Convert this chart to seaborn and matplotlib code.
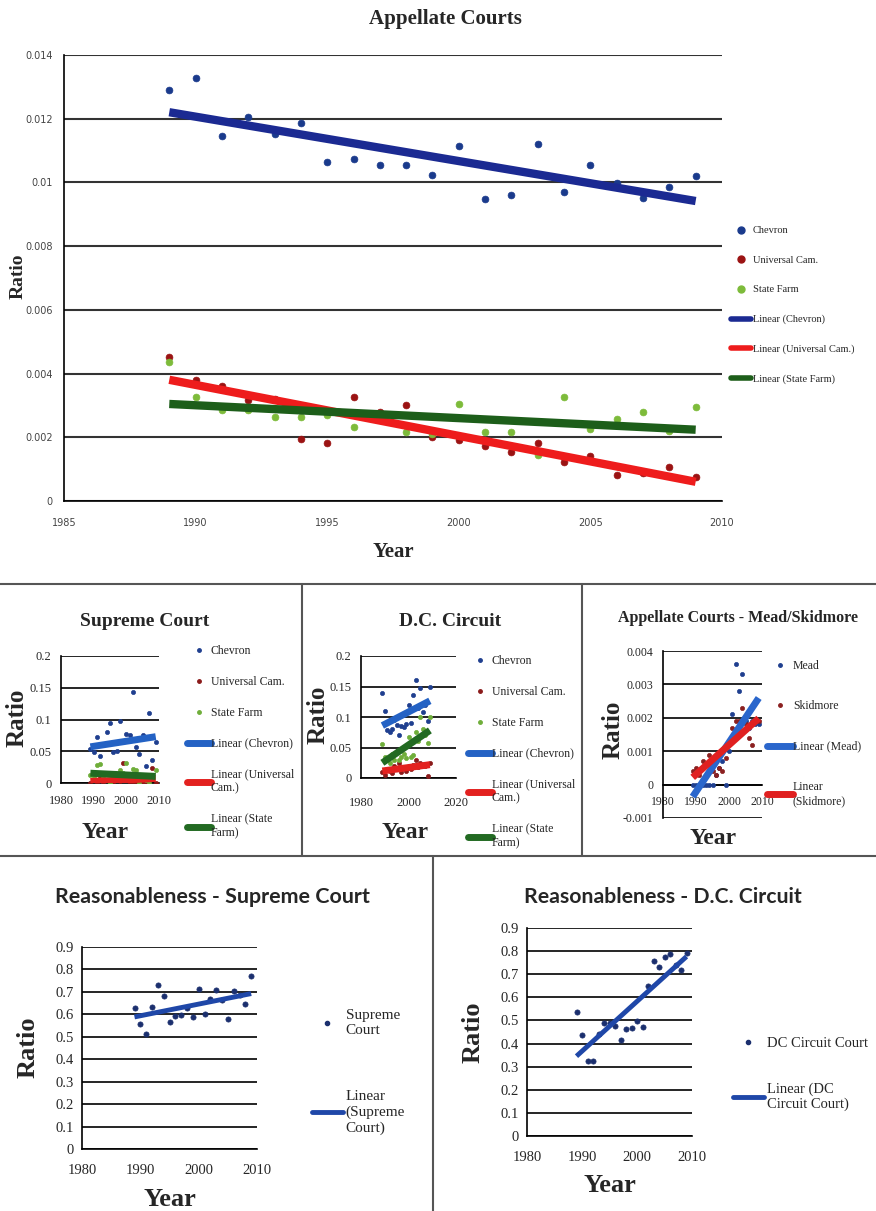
import numpy as np
import matplotlib.pyplot as plt
from matplotlib.lines import Line2D
import seaborn as sns

years = np.arange(1989, 2010)

# Appellate courts (top chart)
app_chevron = [0.0129, 0.01328, 0.01146, 0.01205, 0.01152, 0.01187, 0.01064, 0.01074, 0.01055, 0.01055, 0.01023,
               0.01114, 0.00948, 0.0096, 0.01121, 0.0097, 0.01055, 0.00998, 0.0095, 0.00986, 0.0102]
app_univ = [0.00452, 0.0038, 0.0036, 0.00317, 0.0032, 0.00195, 0.00182, 0.00326, 0.0028, 0.003, 0.00201,
            0.00191, 0.00173, 0.00154, 0.00182, 0.00122, 0.00141, 0.00082, 0.00088, 0.00107, 0.00075]
app_state = [0.00436, 0.00327, 0.00286, 0.00286, 0.00264, 0.00264, 0.0027, 0.00232, 0.0027, 0.00217, 0.0021,
             0.00304, 0.00217, 0.00217, 0.00144, 0.00326, 0.00226, 0.00257, 0.0028, 0.0022, 0.00295]

# Supreme Court
sc_chevron = [0.054, 0.049, 0.072, 0.043, 0.0, 0.080, 0.094, 0.049, 0.051, 0.098, 0.064,
              0.077, 0.075, 0.144, 0.056, 0.046, 0.075, 0.027, 0.110, 0.036, 0.064]
sc_univ = [0.0, 0.005, 0.0, 0.008, 0.0, 0.004, 0.0, 0.0, 0.006, 0.003, 0.032,
           0.004, 0.0, 0.0, 0.0, 0.006, 0.0, 0.0, 0.008, 0.024, 0.0]
sc_state = [0.012, 0.01, 0.028, 0.03, 0.008, 0.005, 0.0, 0.012, 0.005, 0.02, 0.015,
            0.032, 0.005, 0.022, 0.02, 0.0, 0.01, 0.005, 0.0, 0.012, 0.02]

# D.C. Circuit
dc_chevron = [0.14, 0.11, 0.078, 0.075, 0.08, 0.095, 0.087, 0.07, 0.085, 0.083, 0.088,
              0.12, 0.09, 0.136, 0.16, 0.115, 0.148, 0.108, 0.12, 0.093, 0.15]
dc_univ = [0.01, 0.005, 0.015, 0.012, 0.008, 0.02, 0.015, 0.025, 0.01, 0.018, 0.012,
           0.02, 0.015, 0.022, 0.03, 0.018, 0.025, 0.022, 0.02, 0.003, 0.025]
dc_state = [0.055, 0.035, 0.03, 0.025, 0.04, 0.03, 0.045, 0.03, 0.035, 0.04, 0.032,
            0.068, 0.035, 0.038, 0.075, 0.06, 0.1, 0.08, 0.07, 0.058, 0.1]

# Appellate courts - Mead / Skidmore
mead = [0, 0, 0, 0, 0, 0, 0, 0.0003, 0.0005, 0.0007, 0,
        0.001, 0.0021, 0.0036, 0.0028, 0.0033, 0.0019, 0.0017, 0.0019, 0.0018, 0.0018]
skidmore = [0.0004, 0.0005, 0.0003, 0.0007, 0.0006, 0.0009, 0.0004, 0.0003, 0.0005, 0.0004, 0.0008,
            0.0013, 0.0017, 0.0019, 0.0019, 0.0023, 0.0018, 0.0014, 0.0012, 0.0019, 0.0019]

# Reasonableness
reas_sc = [0.626, 0.556, 0.514, 0.633, 0.73, 0.68, 0.566, 0.593, 0.599, 0.626, 0.588,
           0.715, 0.603, 0.667, 0.707, 0.663, 0.577, 0.703, 0.685, 0.648, 0.77]
reas_dc = [0.535, 0.438, 0.325, 0.325, 0.44, 0.49, 0.49, 0.474, 0.416, 0.464, 0.467,
           0.496, 0.47, 0.65, 0.756, 0.731, 0.775, 0.789, 0.74, 0.717, 0.792]

sns.set_style('white')
plt.rcParams['font.family'] = ['Liberation Serif', 'DejaVu Serif']

W, H = 876, 1211
fig = plt.figure(figsize=(W / 100, H / 100), dpi=100)


def add_ax(l, t, r, b):
    return fig.add_axes([l / W, 1 - b / H, (r - l) / W, (b - t) / H])


def ftext(x, y, s, size, rot=0, weight='bold', family=None):
    kw = {} if family is None else {'family': family}
    fig.text(x / W, 1 - y / H, s, ha='center', va='center', fontsize=size,
             rotation=rot, weight=weight, **kw)


def style(ax, xlim, ylim, yticks, ylabels, xticks, fs, grid_col='black', grid_lw=1.2, xpad=4, ypad=4):
    ax.set_xlim(xlim)
    ax.set_ylim(ylim)
    ax.set_yticks(yticks)
    ax.set_yticklabels(ylabels)
    ax.set_xticks(xticks)
    ax.set_xticklabels([str(t) for t in xticks])
    ax.yaxis.grid(True, color=grid_col, lw=grid_lw)
    ax.xaxis.grid(False)
    for s in ['top', 'right']:
        ax.spines[s].set_visible(False)
    for s in ['left', 'bottom']:
        ax.spines[s].set_color('black')
        ax.spines[s].set_linewidth(1.2)
    ax.tick_params(axis='both', labelsize=fs, length=0)
    ax.tick_params(axis='x', pad=xpad)
    ax.tick_params(axis='y', pad=ypad)
    ax.set_axisbelow(True)
    ax.set_xlabel('')
    ax.set_ylabel('')


def series(ax, y, mcol, lcol, s, lw, ec=None):
    sns.scatterplot(x=years, y=y, ax=ax, color=mcol, s=s, edgecolor=ec or mcol,
                    linewidth=0.5, legend=False, zorder=3)
    sns.regplot(x=years, y=y, ax=ax, scatter=False, ci=None, color=lcol,
                line_kws=dict(lw=lw, solid_capstyle='butt', zorder=4))


def legend(ax, handles, labels, x, y, fs, spacing, hl, pad=0.2):
    ax.legend(handles, labels, loc='upper left', bbox_to_anchor=(x / W, 1 - y / H),
              bbox_transform=fig.transFigure, frameon=False, fontsize=fs,
              labelspacing=spacing, handlelength=hl, handletextpad=pad,
              borderpad=0, borderaxespad=0)


def mk(col, ms):
    return Line2D([], [], ls='', marker='o', ms=ms, mfc=col, mec=col)


def ln(col, lw):
    return Line2D([], [], color=col, lw=lw)


# ---------- Top: Appellate Courts ----------
ax = add_ax(64, 55, 722, 501)
series(ax, app_chevron, '#1a3a8c', '#1b2a92', 24, 6)
series(ax, app_univ, '#9b1313', '#ee1c1c', 24, 6)
series(ax, app_state, '#7dbb3a', '#1d5e1a', 24, 6)
style(ax, (1985, 2010), (0, 0.014), np.arange(0, 0.0141, 0.002),
      ['0', '0.002', '0.004', '0.006', '0.008', '0.01', '0.012', '0.014'],
      [1985, 1990, 1995, 2000, 2005, 2010], 7, grid_col='#333333', grid_lw=1.5, xpad=12)
for lab in ax.get_xticklabels() + ax.get_yticklabels():
    lab.set_family('DejaVu Sans')
    lab.set_color('#444444')
ax.tick_params(axis='y', length=4, color='black')
legend(ax, [mk('#1a3a8c', 5), mk('#9b1313', 5), mk('#7dbb3a', 5),
            ln('#1b2a92', 4), ln('#ee1c1c', 4), ln('#1d5e1a', 4)],
       ['Chevron', 'Universal Cam.', 'State Farm', 'Linear (Chevron)',
        'Linear (Universal Cam.)', 'Linear (State Farm)'],
       731, 226, 7.5, 1.95, 1.9)
ftext(445, 19, 'Appellate Courts', 15)
ftext(18, 276, 'Ratio', 14, rot=90)
ftext(393, 552, 'Year', 15)

# ---------- Middle row ----------
three_labels = ['Chevron', 'Universal Cam.', 'State Farm', 'Linear (Chevron)',
                'Linear (Universal\nCam.)', 'Linear (State\nFarm)']


def three_handles():
    return [mk('#1f3f8f', 2.5), mk('#8b1a1a', 2.5), mk('#6fae3a', 2.5),
            ln('#2462c4', 5), ln('#e3211f', 5), ln('#226a22', 5)]


ax = add_ax(61, 656, 159, 783)
series(ax, sc_chevron, '#1f3f8f', '#2462c4', 9, 5)
series(ax, sc_univ, '#8b1a1a', '#e3211f', 9, 5)
series(ax, sc_state, '#6fae3a', '#226a22', 9, 5)
style(ax, (1980, 2010), (0, 0.2), [0, 0.05, 0.1, 0.15, 0.2], ['0', '0.05', '0.1', '0.15', '0.2'],
      [1980, 1990, 2000, 2010], 9, xpad=9, ypad=7)
legend(ax, three_handles(), three_labels, 187, 645, 8.5, 1.6, 2.0, pad=0.0)
ftext(145, 622, 'Supreme Court', 14)
ftext(17, 718, 'Ratio', 18, rot=90)
ftext(105, 832, 'Year', 17)

ax = add_ax(361, 656, 456, 778)
series(ax, dc_chevron, '#1f3f8f', '#2462c4', 9, 5)
series(ax, dc_univ, '#8b1a1a', '#e3211f', 9, 5)
series(ax, dc_state, '#6fae3a', '#226a22', 9, 5)
style(ax, (1980, 2020), (0, 0.2), [0, 0.05, 0.1, 0.15, 0.2], ['0', '0.05', '0.1', '0.15', '0.2'],
      [1980, 2000, 2020], 9, xpad=14, ypad=7)
legend(ax, three_handles(), three_labels, 468, 655, 8.5, 1.6, 2.0, pad=0.0)
ftext(450, 622, 'D.C. Circuit', 14)
ftext(318, 715, 'Ratio', 18, rot=90)
ftext(405, 832, 'Year', 17)

ax = add_ax(663, 651, 762, 818)
series(ax, mead, '#1f3f8f', '#2a66cc', 9, 5)
series(ax, skidmore, '#8b2020', '#e02020', 9, 5)
style(ax, (1980, 2010), (-0.001, 0.004), [-0.001, 0, 0.001, 0.002, 0.003, 0.004],
      ['-0.001', '0', '0.001', '0.002', '0.003', '0.004'], [1980, 1990, 2000, 2010], 8.5,
      xpad=8, ypad=7)
ax.spines['bottom'].set_position(('data', 0))
legend(ax, [mk('#1f3f8f', 2.5), mk('#8b2020', 2.5), ln('#2a66cc', 5), ln('#e02020', 5)],
       ['Mead', 'Skidmore', 'Linear (Mead)', 'Linear\n(Skidmore)'],
       767, 660, 8.5, 2.4, 2.2, pad=0.0)
ftext(738, 618, 'Appellate Courts - Mead/Skidmore', 11.5)
ftext(613, 730, 'Ratio', 18, rot=90)
ftext(713, 838, 'Year', 17)

# ---------- Bottom row ----------
yt = np.round(np.arange(0, 0.91, 0.1), 1)
ylab = ['0'] + [f'{v:.1f}' for v in yt[1:]]

ax = add_ax(82, 947, 257, 1149)
series(ax, reas_sc, '#1b2f6e', '#1f47a8', 14, 3.5)
style(ax, (1980, 2010), (0, 0.9), yt, ylab, [1980, 1990, 2000, 2010], 10.5, xpad=11, ypad=6)
legend(ax, [mk('#1b2f6e', 3), ln('#1f47a8', 3.5)],
       ['Supreme\nCourt', 'Linear\n(Supreme\nCourt)'], 312, 1009, 11, 3.5, 2.0, pad=0.2)
ftext(212, 897, 'Reasonableness - Supreme Court', 15.4, family='Lato')
ftext(28, 1047, 'Ratio', 19, rot=90)
ftext(170, 1199, 'Year', 19)

ax = add_ax(527, 928, 692, 1136)
series(ax, reas_dc, '#1b2f6e', '#1f47a8', 14, 3.5)
style(ax, (1980, 2010), (0, 0.9), yt, ylab, [1980, 1990, 2000, 2010], 10.5, xpad=11, ypad=6)
legend(ax, [mk('#1b2f6e', 3), ln('#1f47a8', 3.5)],
       ['DC Circuit Court', 'Linear (DC\nCircuit Court)'], 733, 1037, 10.5, 2.2, 2.1, pad=0.2)
ftext(663, 897, 'Reasonableness - D.C. Circuit', 15.3, family='Lato')
ftext(473, 1032, 'Ratio', 19, rot=90)
ftext(610, 1186, 'Year', 19)


# panel separators
def sep(x0, y0, x1, y1):
    fig.add_artist(Line2D([x0 / W, x1 / W], [1 - y0 / H, 1 - y1 / H],
                          transform=fig.transFigure, color='#555555', lw=1.5))


sep(0, 584, W, 584)
sep(0, 856, W, 856)
sep(302, 584, 302, 856)
sep(582, 584, 582, 856)
sep(433, 856, 433, H)

fig.savefig('out.png', dpi=100)
